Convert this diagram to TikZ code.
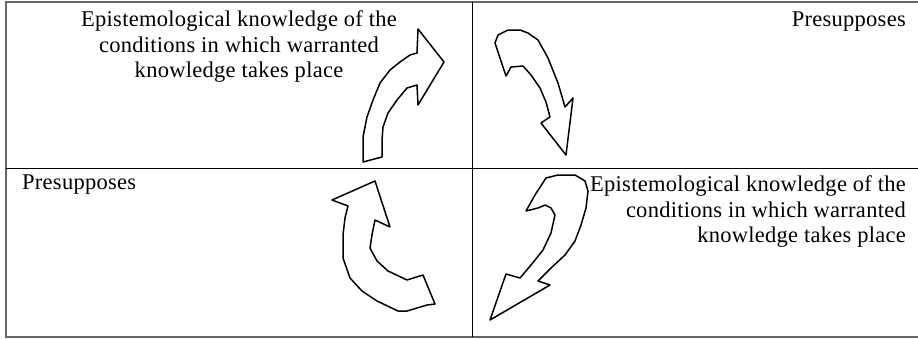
\documentclass[tikz,border=0pt]{standalone}
\usepackage{fontspec}
\setmainfont{Liberation Serif}
\newfontfamily\spacedserif[LetterSpace=1.2]{Liberation Serif}
\begin{document}
\begin{tikzpicture}[x=1pt,y=-1pt,
  txt/.style={inner sep=0pt,font=\spacedserif\fontsize{22.5}{25.5}\selectfont},
  arrowshape/.style={draw=black,line width=1.5pt,line join=round,fill=white},
  outerline/.style={draw=black!60,line width=2pt},
  innerline/.style={draw=black,line width=1pt}]
\useasboundingbox (0,0) rectangle (918,338);
% table
\draw[outerline] (918,1.5) -- (5.5,1.5) -- (5.5,337) -- (918,337);
\draw[innerline] (5.5,168) -- (918,168);
\draw[innerline] (472.5,1.5) -- (472.5,337);
% texts
\node[txt,anchor=north,align=center] (tl) at (239,10.8)
  {Epistemological knowledge of the\\conditions in which warranted\\knowledge takes place};
\node[txt,anchor=base east] (tr) at (906,26) {Presupposes};
\node[txt,anchor=base west] (bl) at (22,189) {Presupposes};
\node[txt,anchor=north east,align=right] (br) at (906,175.8)
  {Epistemological knowledge of the\\conditions in which warranted\\knowledge takes place};
% arrow 1 (top-left, up-right)
\draw[arrowshape] (363,162) -- (363,137) -- (367,117) -- (373,100) -- (380,83)
  -- (390,70) -- (400,62) -- (410,55) -- (417,53) -- (418,29) -- (444,62)
  -- (418,105) -- (417,85) -- (407,88) -- (397,100) -- (388,113) -- (383,127)
  -- (382,140) -- (382,157) -- cycle;
% arrow 2 (top-right, down)
\draw[arrowshape] (495,43) -- (506,76) -- (511,67) -- (523,66) -- (531,75)
  -- (540,88) -- (546,102) -- (550,117) -- (541,123) -- (566,155) -- (573,98)
  -- (565,107) -- (558,83) -- (548,58) -- (538,40) -- (528,33) -- (520,30)
  -- (508,30) -- (498,35) -- cycle;
% arrow 3 (bottom-left, up-left)
\draw[arrowshape] (332,200) -- (375,181) -- (390,227) -- (375,220) -- (372,235)
  -- (370,248) -- (377,261) -- (388,271) -- (407,280) -- (423,275) -- (435,304)
  -- (427,305) -- (407,311) -- (398,311) -- (377,301) -- (362,291) -- (350,278)
  -- (343,258) -- (343,235) -- (345,218) -- (348,206) -- cycle;
% arrow 4 (bottom-right, down-left)
\draw[arrowshape] (490,320) -- (506,274) -- (520,278) -- (531,265) -- (543,250)
  -- (551,233) -- (555,215) -- (551,208) -- (545,205) -- (538,208) -- (526,211)
  -- (535,195) -- (546,178) -- (558,175) -- (575,175) -- (585,181) -- (588,191)
  -- (586,208) -- (581,225) -- (575,241) -- (565,255) -- (551,268) -- (538,281)
  -- (550,285) -- cycle;
\end{tikzpicture}
\end{document}
